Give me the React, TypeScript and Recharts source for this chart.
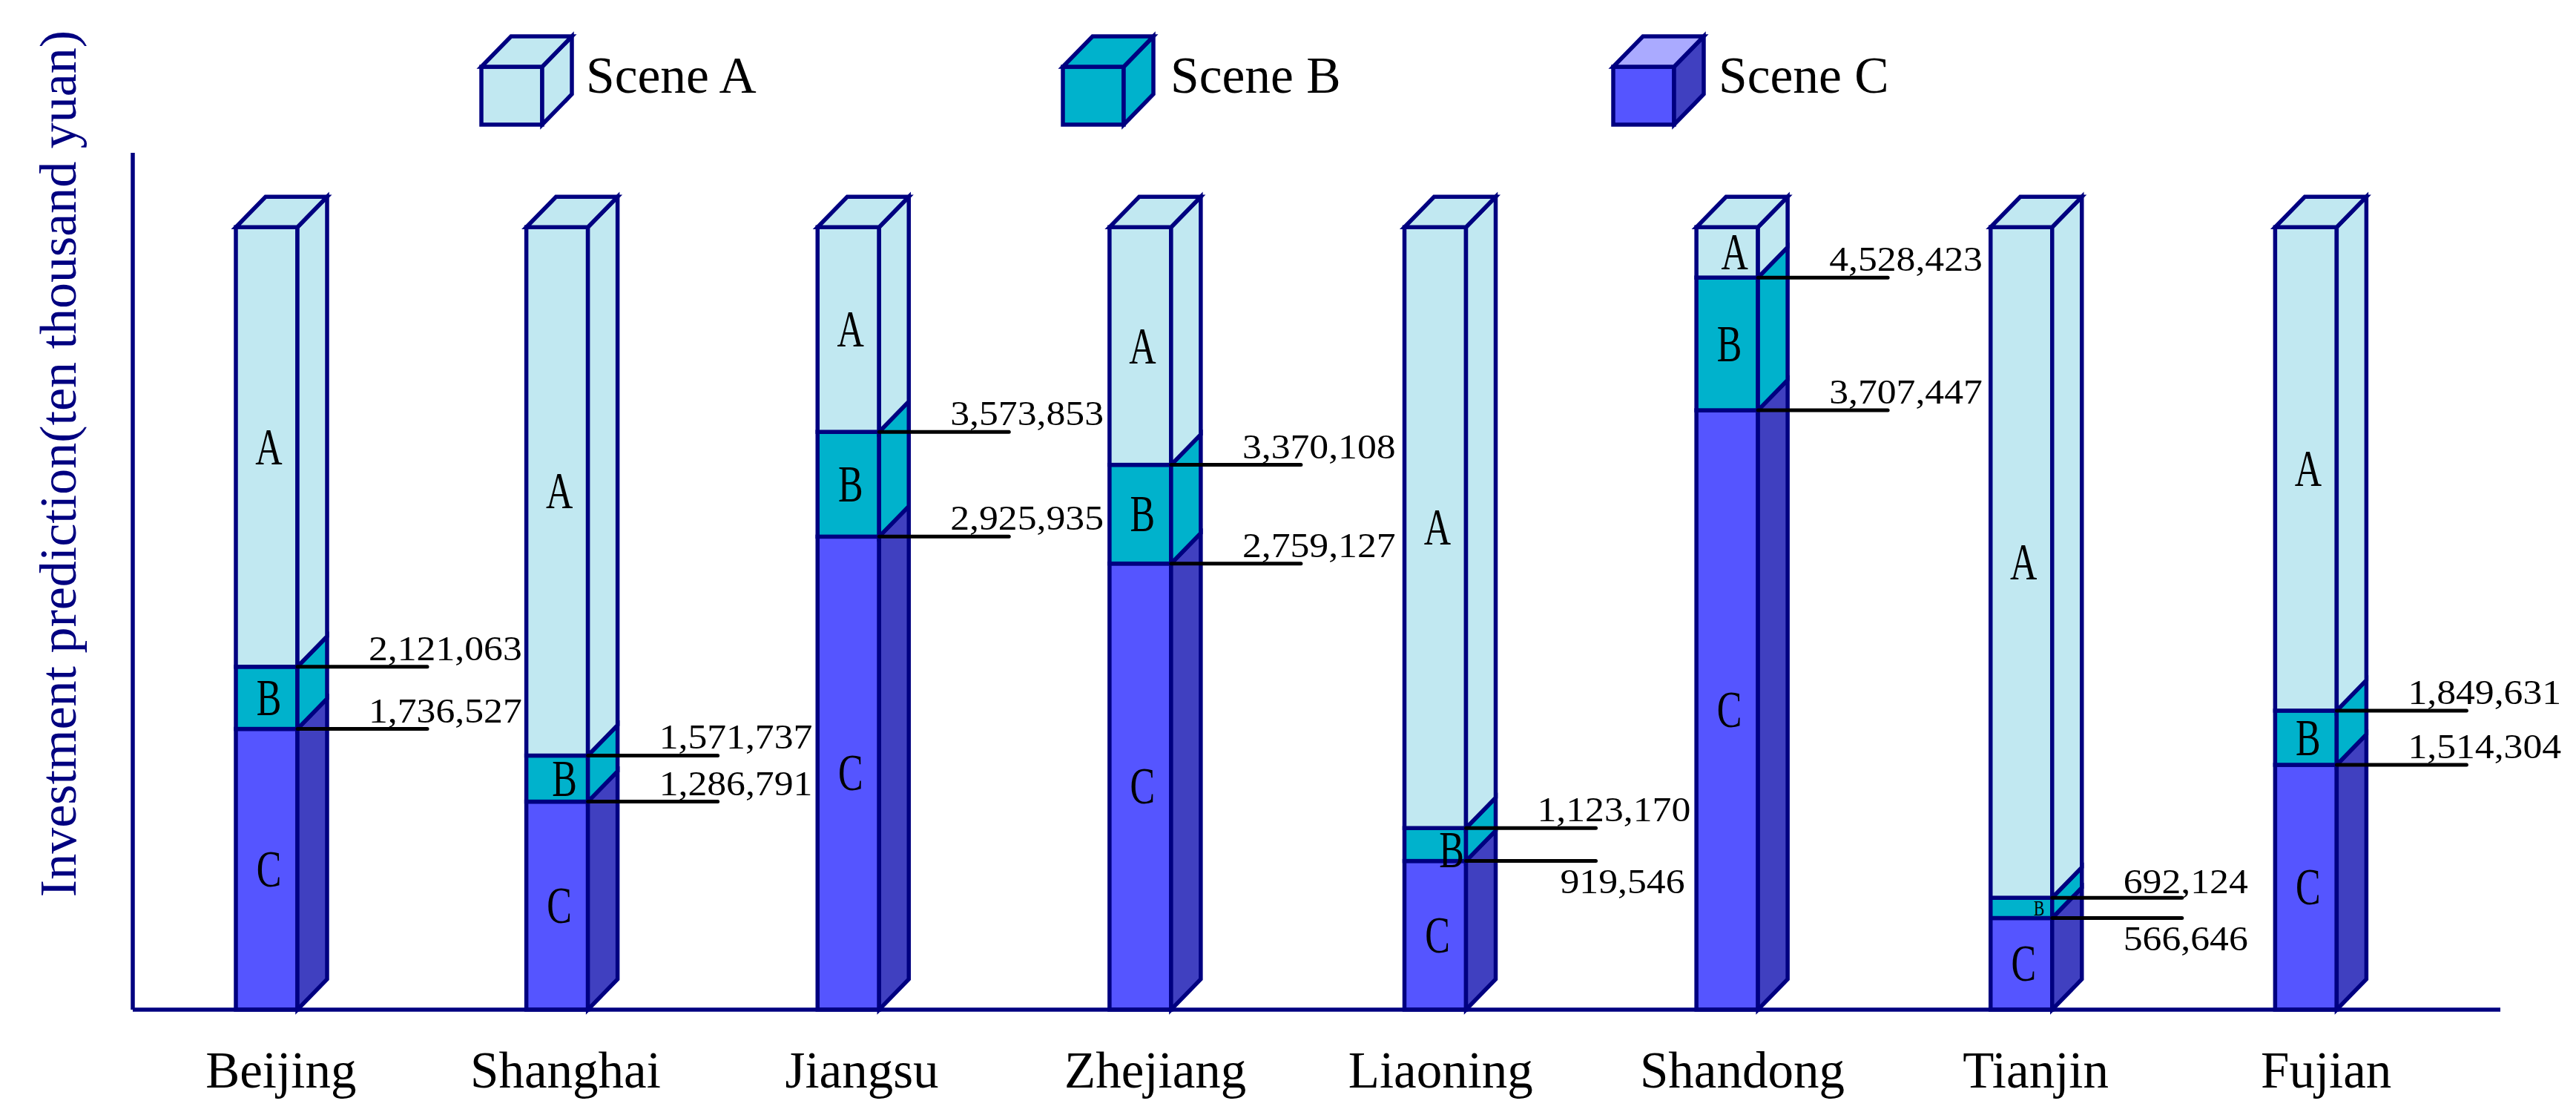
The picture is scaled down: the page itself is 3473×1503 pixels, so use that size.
import React from "react";
import { BarChart, Bar, XAxis, YAxis, Legend, LabelList, Label } from "recharts";

const regions = ["Beijing", "Shanghai", "Jiangsu", "Zhejiang", "Liaoning", "Shandong", "Tianjin", "Fujian"];
const sceneC = [1736527, 1286791, 2925935, 2759127, 919546, 3707447, 566646, 1514304];
const sceneB = [384536, 284946, 647918, 610981, 203624, 820976, 125478, 335327];
const sceneA = [2718937, 3268263, 1266147, 1469892, 3716830, 311577, 4147876, 2990369];
const upperLabels = [2121063, 1571737, 3573853, 3370108, 1123170, 4528423, 692124, 1849631];
const lowerLabels = [1736527, 1286791, 2925935, 2759127, 919546, 3707447, 566646, 1514304];
const lowerLabelShift = [0, 0, 0, 0, 31, 0, 0, 0];
const columnShift = [1, -1, -2, -2, 2, 2, 5, -5];
const tickShift = [0, -10, -4, -2, -11, 2, 4, 2];
const legendNames = ["Scene A", "Scene B", "Scene C"];

const rows = regions.map((region, i) => ({
  region,
  a: sceneA[i],
  b: sceneB[i],
  c: sceneC[i],
  upper: upperLabels[i],
  lower: lowerLabels[i],
  letterA: "A",
  letterB: "B",
  letterC: "C",
}));

const NAVY = "#000080";
const SERIF = "'Liberation Serif', serif";
const DX = 40;
const DY = 41;
const SW = 5.5;
const palette = [
  { front: "#C1E8F1", side: "#C1E8F1", top: "#C1E8F1" },
  { front: "#00B2CC", side: "#00B2CC", top: "#00B2CC" },
  { front: "#5555FF", side: "#4040C0", top: "#AAAAFF" },
];

function box(x: number, y: number, w: number, h: number, c: (typeof palette)[number], withTop: boolean) {
  const r = x + w;
  return (
    <g stroke={NAVY} strokeWidth={SW} strokeLinejoin="miter">
      <rect x={x} y={y} width={w} height={h} fill={c.front} />
      <polygon points={`${r},${y} ${r + DX},${y - DY} ${r + DX},${y + h - DY} ${r},${y + h}`} fill={c.side} />
      {withTop && <polygon points={`${x},${y} ${x + DX},${y - DY} ${r + DX},${y - DY} ${r},${y}`} fill={c.top} />}
    </g>
  );
}

const segment = (c: (typeof palette)[number], withTop: boolean) => (p: any) =>
  box(p.x + columnShift[p.index], p.y, p.width - DX, p.height, c, withTop);

const letterLabel = (p: any) => {
  const w = p.width - DX;
  const small = p.height < 30;
  const cramped = p.height < 50;
  const tight = p.height < 70;
  const cx = p.x + columnShift[p.index] + w / 2 + (small ? 24 : cramped ? 22 : tight ? 10 : 3);
  const cy = p.y + p.height / 2 + (cramped && !small ? 7 : 0);
  const fs = small ? 30 : 70;
  return (
    <text
      transform={`translate(${cx},${cy + fs * 0.33}) scale(0.72,1)`}
      textAnchor="middle"
      fontFamily={SERIF}
      fontSize={fs}
      fill="#000"
    >
      {p.value}
    </text>
  );
};

const leaderLabel = (kind: "upper" | "lower") => (p: any) => {
  const xr = p.x + columnShift[p.index] + p.width - DX;
  const y = p.y;
  const v = Number(p.value);
  const below = kind === "lower" && v < 1000000;
  const small = v < 1000000;
  const tx = xr + 96 + (kind === "lower" ? lowerLabelShift[p.index] : 0);
  const by = below ? y + 43 : y - (small ? 6 : 9);
  return (
    <g>
      <line x1={xr} y1={y} x2={xr + 175} y2={y} stroke="#000" strokeWidth={5} strokeLinecap="round" />
      <text transform={`translate(${tx},${by}) scale(1.1,1)`} fontFamily={SERIF} fontSize={47} fill="#000">
        {v.toLocaleString("en-US")}
      </text>
    </g>
  );
};

const RegionTick = (p: any) => (
  <text x={p.x + tickShift[p.index]} y={p.y + 97} textAnchor="middle" fontFamily={SERIF} fontSize={69} fill="#000">
    {p.payload.value}
  </text>
);

const LegendBoxes = () => {
  const xs = [649, 1433, 2175];
  const textXs = [790, 1578, 2317];
  return (
    <svg width={3473} height={200} style={{ display: "block" }}>
      {legendNames.map((name, i) => (
        <g key={name}>
          {box(xs[i], 90, 82, 78, palette[i], true)}
          <text x={textXs[i]} y={125} fontFamily={SERIF} fontSize={69.5} fill="#000">
            {name}
          </text>
        </g>
      ))}
    </svg>
  );
};

const YTitle = () => (
  <text
    transform="translate(102,625) rotate(-90)"
    textAnchor="middle"
    fontFamily={SERIF}
    fontSize={70}
    fill={NAVY}
  >
    Investment prediction(ten thousand yuan)
  </text>
);

export default function App() {
  return (
    <div style={{ position: "absolute", left: 0, top: 0, width: 3473, height: 1503, background: "#fff" }}>
      <BarChart
        width={3473}
        height={1503}
        data={rows}
        margin={{ top: 6, right: 102, bottom: 0, left: 0 }}
        barSize={123}
      >
        <XAxis
          dataKey="region"
          height={142}
          padding={{ left: 3, right: 40 }}
          tickLine={false}
          axisLine={{ stroke: NAVY, strokeWidth: 5.5 }}
          tick={RegionTick}
          interval={0}
        />
        <YAxis
          width={179}
          domain={[0, 5300000]}
          tick={false}
          tickLine={false}
          axisLine={{ stroke: NAVY, strokeWidth: 5.5 }}
        >
          <Label content={YTitle} />
        </YAxis>
        <Legend
          verticalAlign="top"
          height={200}
          wrapperStyle={{ top: 0, left: 0, width: 3473, height: 200 }}
          content={LegendBoxes}
        />
        <Bar dataKey="c" name={legendNames[2]} stackId="s" shape={segment(palette[2], false)} isAnimationActive={false}>
          <LabelList dataKey="letterC" content={letterLabel} />
          <LabelList dataKey="lower" content={leaderLabel("lower")} />
        </Bar>
        <Bar dataKey="b" name={legendNames[1]} stackId="s" shape={segment(palette[1], false)} isAnimationActive={false}>
          <LabelList dataKey="letterB" content={letterLabel} />
          <LabelList dataKey="upper" content={leaderLabel("upper")} />
        </Bar>
        <Bar dataKey="a" name={legendNames[0]} stackId="s" shape={segment(palette[0], true)} isAnimationActive={false}>
          <LabelList dataKey="letterA" content={letterLabel} />
        </Bar>
      </BarChart>
    </div>
  );
}
